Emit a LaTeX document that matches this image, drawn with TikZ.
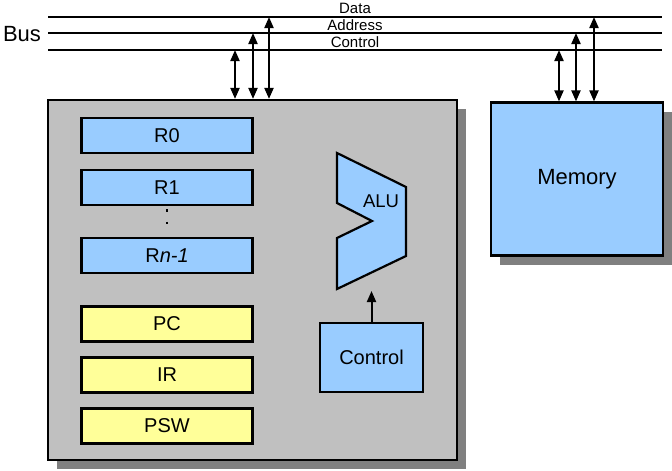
\documentclass[tikz,border=0pt]{standalone}
\usepackage{fontspec}
\setmainfont{Liberation Sans}
\usetikzlibrary{arrows.meta,shadows}
\definecolor{cpugray}{HTML}{C0C0C0}
\definecolor{shadowgray}{HTML}{808080}
\definecolor{regblue}{HTML}{99CCFF}
\definecolor{regyellow}{HTML}{FFFF99}
\tikzset{
	unitbox/.style={draw=black,line width=2.2pt,inner sep=0pt,
		drop shadow={shadow xshift=9pt,shadow yshift=-9pt,fill=shadowgray,opacity=1}},
	regbox/.style={draw=black,line width=2.2pt,inner sep=0pt,minimum width=171pt,minimum height=35pt},
	busline/.style={line width=2.8pt},
	busarrow/.style={line width=2pt,{Triangle[length=11pt,width=9pt]}-{Triangle[length=11pt,width=9pt]}}
}
\begin{document}
\begin{tikzpicture}[x=1pt,y=-1pt]
		\newcommand{\myfontregs}[1]{
			\fontsize{20}{22}\selectfont{#1}
		}\newcommand{\myfontbus}[1]{
			\fontsize{15}{17}\selectfont{#1}
		}%Page
		\useasboundingbox (0,0) rectangle (672,471);
		%Bus lines
		\coordinate (dataL) at (48,17);
		\coordinate (dataR) at (662,17);
		\coordinate (addrL) at (48,33);
		\coordinate (addrR) at (662,33);
		\coordinate (ctrlL) at (48,50);
		\coordinate (ctrlR) at (662,50);
		\draw [busline] (dataL) -- (dataR);
		\draw [busline] (addrL) -- (addrR);
		\draw [busline] (ctrlL) -- (ctrlR);
		\node (bus) at (22,34) {\fontsize{22}{24}\selectfont Bus};
		\node (dataLabel) at (355,8) {\myfontbus{Data}};
		\node (addrLabel) at (355,25) {\myfontbus{Address}};
		\node (ctrlLabel) at (355,42) {\myfontbus{Control}};
		%Processor
		\node [unitbox,fill=cpugray,minimum width=409pt,minimum height=360pt] (cpu) at (252.5,280) {};
		%Memory
		\node [unitbox,fill=regblue,minimum width=172pt,minimum height=153pt] (memory) at (577,179) {\fontsize{22}{24}\selectfont Memory};
		%Taps from the bus
		\coordinate (cpuCtrl) at (235,50);
		\coordinate (cpuAddr) at (253,33);
		\coordinate (cpuData) at (269,17);
		\coordinate (memCtrl) at (559,50);
		\coordinate (memAddr) at (576,33);
		\coordinate (memData) at (594,17);
		\draw [busarrow] (cpuCtrl) -- (cpuCtrl |- cpu.north);
		\draw [busarrow] (cpuAddr) -- (cpuAddr |- cpu.north);
		\draw [busarrow] (cpuData) -- (cpuData |- cpu.north);
		\draw [busarrow] (memCtrl) -- (memCtrl |- memory.north);
		\draw [busarrow] (memAddr) -- (memAddr |- memory.north);
		\draw [busarrow] (memData) -- (memData |- memory.north);
		%General registers
		\node [regbox,fill=regblue] (r0) at (167,135.5) {\myfontregs{R0}};
		\node [regbox,fill=regblue] (r1) at (167,187.5) {\myfontregs{R1}};
		\node [regbox,fill=regblue] (rn) at (167,255.5) {\myfontregs{R\textit{n-1}}};
		\draw [line width=2.6pt,dash pattern=on 2.6pt off 10.1pt,shorten <=3pt,shorten >=3pt] (r1.south) -- (rn.north);
		%Special registers
		\node [regbox,fill=regyellow] (pc) at (167,324) {\myfontregs{PC}};
		\node [regbox,fill=regyellow] (ir) at (167,375) {\myfontregs{IR}};
		\node [regbox,fill=regyellow] (psw) at (167,426) {\myfontregs{PSW}};
		%ALU
		\coordinate (aluTL) at (337,153);
		\coordinate (aluTR) at (406,187);
		\coordinate (aluBR) at (406,256);
		\coordinate (aluBL) at (337,289);
		\coordinate (aluNL) at (337,238);
		\coordinate (aluNP) at (372,221);
		\coordinate (aluNU) at (337,203);
		\draw [line width=2.2pt,fill=regblue,line join=miter] (aluTL) -- (aluTR) -- (aluBR) -- (aluBL) -- (aluNL) -- (aluNP) -- (aluNU) -- cycle;
		\node (alu) at (381,201) {\fontsize{18.5}{20}\selectfont ALU};
		%Control unit
		\node [draw=black,line width=2.2pt,fill=regblue,inner sep=0pt,minimum width=103pt,minimum height=69pt] (control) at (371.5,357.5) {\myfontregs{Control}};
		\coordinate (aluIn) at (371.5,291);
		\draw [line width=2pt,-{Triangle[length=11pt,width=9pt]}] (control.north) -- (aluIn);
		\end{tikzpicture}
\end{document}
